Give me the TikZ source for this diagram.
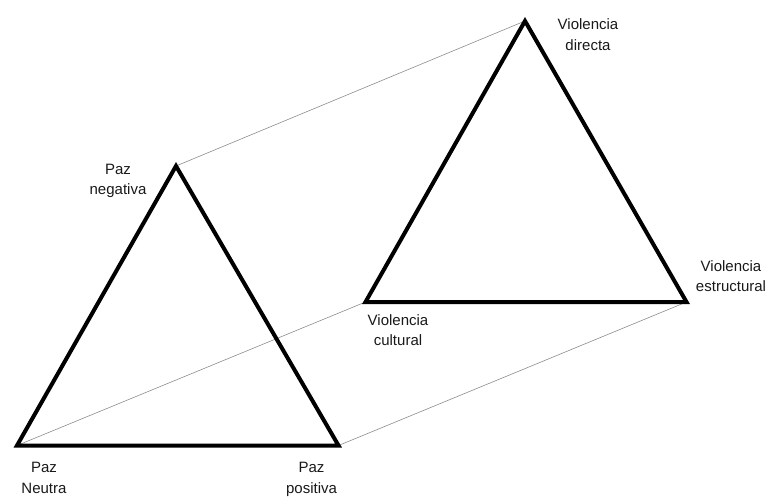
\documentclass[tikz,border=0pt]{standalone}
\usepackage{fontspec}
\setmainfont{Liberation Sans}
\begin{document}
\begin{tikzpicture}[x=1pt,y=-1pt,
  tri/.style={line width=4pt,line join=miter,black},
  link/.style={line width=0.6pt,draw=black!45},
  lbl/.style={align=center,inner sep=0pt,anchor=base,font=\fontsize{15}{20.5}\selectfont,text=black!90}]
\useasboundingbox (0,0) rectangle (767,497);
% left triangle
\coordinate (pn) at (176,166);
\coordinate (pneu) at (17,445.5);
\coordinate (ppos) at (338.5,445.5);
% right triangle
\coordinate (vd) at (525,21);
\coordinate (vc) at (365.5,302);
\coordinate (ve) at (686.5,302);
% connecting lines
\draw[link] (pn) -- (vd);
\draw[link] (pneu) -- (vc);
\draw[link] (ppos) -- (ve);
\draw[tri] (pn) -- (pneu) -- (ppos) -- cycle;
\draw[tri] (vd) -- (vc) -- (ve) -- cycle;
% labels (anchor = baseline of last line)
\node[lbl] (lpn) at (118,194.5) {Paz\\negativa};
\node[lbl] (lvd) at (588,50.5) {Violencia\\directa};
\node[lbl] (lve) at (731,291.5) {Violencia\\estructural};
\node[lbl] (lvc) at (398,345.5) {Violencia\\cultural};
\node[lbl] (lpneu) at (44,493) {Paz\\Neutra};
\node[lbl] (lppos) at (311.5,493) {Paz\\positiva};
\end{tikzpicture}
\end{document}
